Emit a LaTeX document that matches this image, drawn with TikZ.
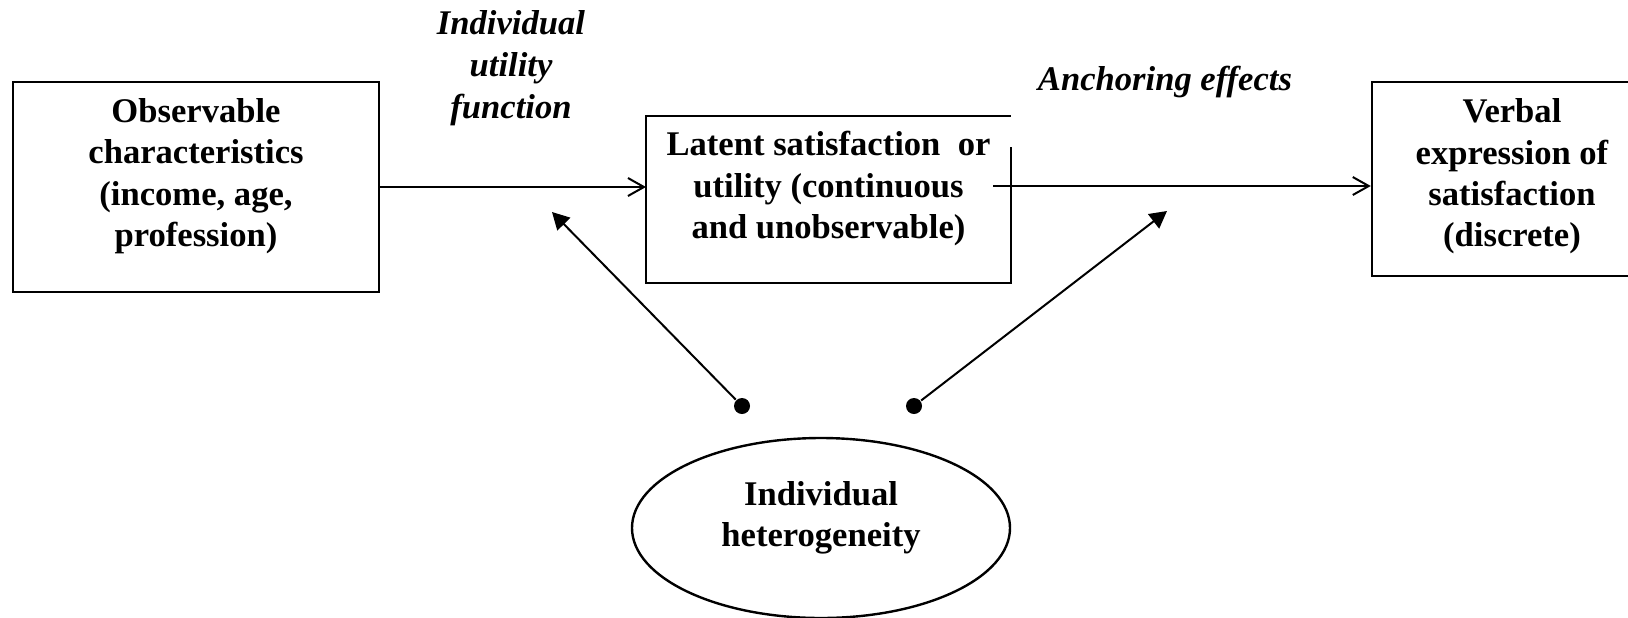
\documentclass[tikz,border=0pt]{standalone}
\usepackage{fontspec}
\setmainfont{Liberation Serif}
\usetikzlibrary{shapes.geometric, arrows.meta}

\begin{document}
\begin{tikzpicture}[x=0.5pt, y=-0.5pt, line width=1pt,
    txt/.style={font=\fontsize{17.3}{20.7}\selectfont\bfseries, align=center, inner sep=0pt},
    cadre/.style={draw, line width=1.2pt, inner sep=0pt},
    lab/.style={txt, font=\fontsize{17.3}{21}\selectfont\bfseries\itshape},
    dot/.style={circle, fill, inner sep=0pt, minimum size=8pt},
    fleche/.style={-{Straight Barb[length=8pt, width=9pt]}},
    pointe/.style={-{Triangle[length=8.5pt, width=9pt]}}]
      \useasboundingbox (0,0) rectangle (1628,617);
      % cadres
      \node[cadre, minimum width=183pt, minimum height=105pt] (obs) at (196,187) {};
      \node[txt] (obst) at ([yshift=5.5pt]obs.center)
        {Observable\\characteristics\\(income, age,\\profession)};
      \node[minimum width=181.5pt, minimum height=82.5pt, inner sep=0pt] (lat) at (828.5,199.5) {};
      \draw[line width=1.2pt] ([yshift=-15.5pt]lat.north east) -- (lat.south east)
        -- (lat.south west) -- (lat.north west) -- (lat.north east);
      \node[txt] (latt) at ([yshift=5.5pt]lat.center)
        {Latent satisfaction\ \ or\\utility (continuous\\and unobservable)};
      \node[cadre, minimum width=140pt, minimum height=97pt] (verb) at (1512,179) {};
      \node[txt] (verbt) at ([yshift=1.3pt]verb.center)
        {Verbal\\expression of\\satisfaction\\(discrete)};
      \node[cadre, ellipse, minimum width=189pt, minimum height=90pt] (het) at (821,528) {};
      \node[txt] (hett) at ([yshift=5pt]het.center) {Individual\\heterogeneity};
      % etiquettes
      \node[lab] (fu) at (511,68) {Individual\\utility\\function};
      \node[lab] (ae) at (1165,82) {Anchoring effects};
      % fleches horizontales
      \coordinate (lout) at (993,186);
      \draw[fleche] (obs.east) -- (obs.east -| lat.west);
      \draw[fleche] (lout) -- (lout -| verb.west);
      % heterogeneite
      \foreach \n/\dx/\tx/\ty in {g/742/552/212, d/914/1167/211} {
        \node[dot]    (dot\n) at (\dx,406) {};
        \coordinate   (tip\n) at (\tx,\ty);
        \draw[pointe] (dot\n) -- (tip\n);
      }
    \end{tikzpicture}
\end{document}
